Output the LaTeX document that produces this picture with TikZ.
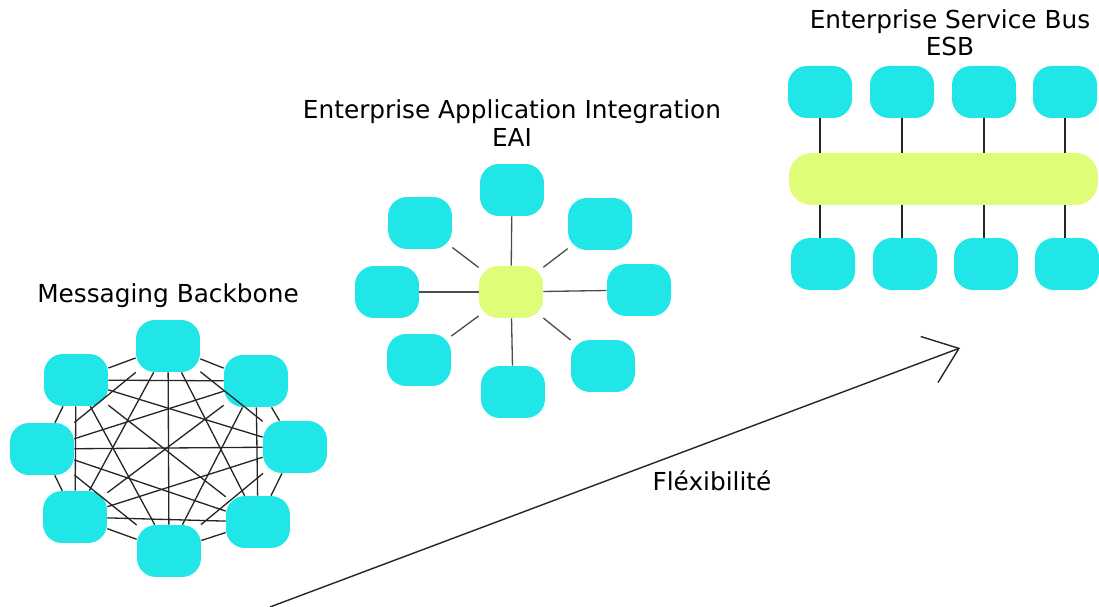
\documentclass[tikz,border=0pt]{standalone}
\usepackage{fontspec}
\setmainfont{DejaVu Sans}
\usepackage{tikz}
\usetikzlibrary{arrows.meta, positioning, calc}
\tikzset{every node/.style={font=\fontsize{14.1}{15.5}\selectfont}}
\usepackage{xcolor}
\definecolor{appcyan}{HTML}{20E6E8}
\definecolor{buslime}{HTML}{E0FD7A}

\begin{document}
\begin{tikzpicture}[x=0.02cm, y=-0.02cm,
    appbox/.style={fill=appcyan, rounded corners=0.38cm, minimum width=1.28cm, minimum height=1.04cm, inner sep=0pt},
    hubbox/.style={appbox, fill=buslime},
    link/.style={draw=black!85, line width=0.75pt}]
    \useasboundingbox (0,0) rectangle (1099,607);

    % Messaging Backbone
    \node (mbtitle) at (168,296) {Messaging Backbone};
    \node[appbox] (mb0) at (168,346) {};
    \node[appbox] (mb1) at (256,381) {};
    \node[appbox] (mb2) at (295,447) {};
    \node[appbox] (mb3) at (258,522) {};
    \node[appbox] (mb4) at (169,551) {};
    \node[appbox] (mb5) at (75,517) {};
    \node[appbox] (mb6) at (42,449) {};
    \node[appbox] (mb7) at (76,380) {};
    \foreach \i in {0,...,6} {
      \pgfmathtruncatemacro{\k}{\i+1}
      \foreach \j in {\k,...,7}
        \draw[link] (mb\i) -- (mb\j);
    }

    % EAI
    \node[align=center] (eaititle) at (512,123) {Enterprise Application Integration\\EAI};
    \node[hubbox] (hub) at (511,292) {};
    \node[appbox] (eai0) at (512,190) {};
    \node[appbox] (eai1) at (600,224) {};
    \node[appbox] (eai2) at (639,290) {};
    \node[appbox] (eai3) at (603,366) {};
    \node[appbox] (eai4) at (513,392) {};
    \node[appbox] (eai5) at (419,360) {};
    \node[appbox] (eai6) at (387,292) {};
    \node[appbox] (eai7) at (420,223) {};
    \foreach \i in {0,...,7}
      \draw[link, draw=black!70] (hub) -- (eai\i);

    % ESB
    \node[align=center] (esbtitle) at (950,33) {Enterprise Service Bus\\ESB};
    \node[hubbox, rounded corners=0.45cm, minimum width=6.18cm] (bus) at (943.5,179) {};
    \node[appbox] (t1) at (820,92) {};
    \node[appbox] (t2) at (902,92) {};
    \node[appbox] (t3) at (984,92) {};
    \node[appbox] (t4) at (1065,92) {};
    \node[appbox] (b1) at (823,264) {};
    \node[appbox] (b2) at (905,264) {};
    \node[appbox] (b3) at (986,264) {};
    \node[appbox] (b4) at (1067,264) {};
    \foreach \i in {1,...,4} {
      \draw[link] (t\i) -- (t\i |- bus.north);
      \draw[link] (bus.south -| t\i) -- (t\i |- b\i.north);
    }

    % flexibility arrow
    \coordinate (flexstart) at (270,607);
    \coordinate (flexend) at (960,348);
    \draw[-{Straight Barb[length=18pt, width=28pt]}, line width=0.8pt, draw=black!85] (flexstart) -- (flexend);
    \node (flexlabel) at (712,481) {Fléxibilité};
  \end{tikzpicture}
\end{document}
